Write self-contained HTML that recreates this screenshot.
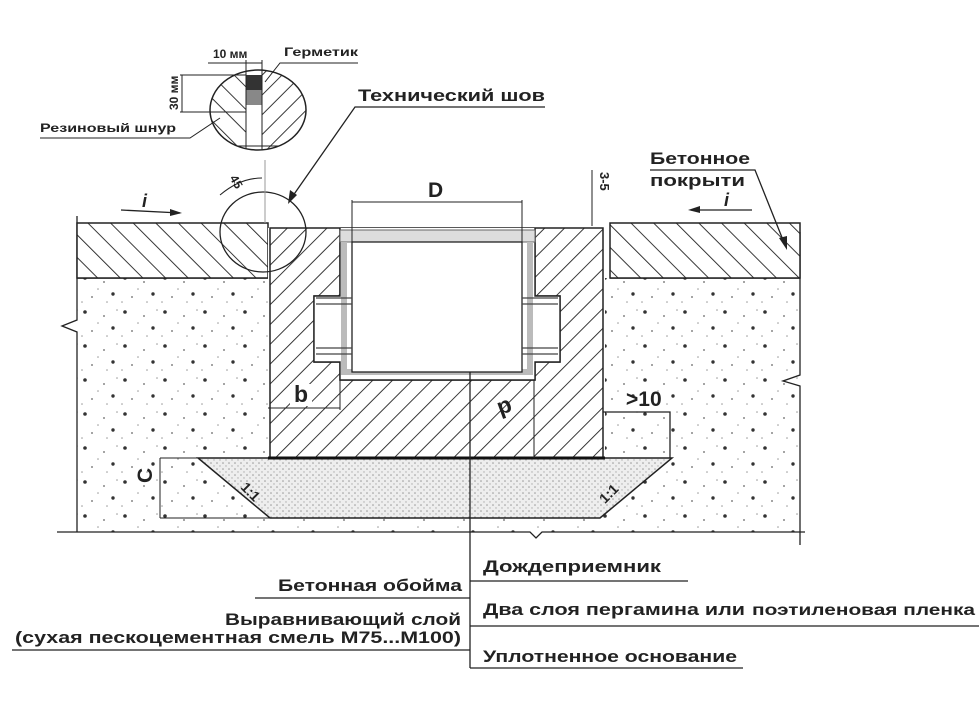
<!DOCTYPE html>
<html><head><meta charset="utf-8"><style>
html,body{margin:0;padding:0;background:#fff;}
svg{display:block;}
text{font-family:"Liberation Sans","DejaVu Sans",sans-serif;font-weight:bold;fill:#222;}
</style></head><body>
<svg width="979" height="708" viewBox="0 0 979 708" xmlns="http://www.w3.org/2000/svg">
<defs>
<pattern id="hL" width="14" height="14" patternUnits="userSpaceOnUse" patternTransform="rotate(45)">
<line x1="0" y1="0" x2="0" y2="14" stroke="#222" stroke-width="1.8"/></pattern>
<pattern id="hR" width="16" height="16" patternUnits="userSpaceOnUse" patternTransform="rotate(-45)">
<line x1="0" y1="0" x2="0" y2="16" stroke="#222" stroke-width="1.8"/></pattern>
<pattern id="sand" width="40" height="34" patternUnits="userSpaceOnUse">
<circle cx="5" cy="6" r="1.8" fill="#333"/><circle cx="24" cy="10" r="1" fill="#888"/>
<circle cx="33" cy="22" r="1.7" fill="#333"/><circle cx="12" cy="25" r="1" fill="#888"/>
<circle cx="18" cy="17" r="0.8" fill="#999"/><circle cx="37" cy="4" r="0.8" fill="#999"/>
<circle cx="2" cy="30" r="0.8" fill="#999"/><circle cx="27" cy="30" r="0.8" fill="#999"/></pattern>
<pattern id="fine" width="6" height="6" patternUnits="userSpaceOnUse">
<rect width="6" height="6" fill="#eee"/>
<circle cx="1" cy="1" r="0.8" fill="#999"/><circle cx="4" cy="4" r="0.7" fill="#aaa"/></pattern>
</defs>

<rect x="77" y="278" width="723" height="254" fill="url(#sand)"/>
<line x1="77" y1="278" x2="268" y2="278" stroke="#222" stroke-width="1.5"/>
<line x1="610" y1="278" x2="800" y2="278" stroke="#222" stroke-width="1.5"/>
<polygon points="198,458 672,458 600,518 270,518" fill="url(#fine)" stroke="#222" stroke-width="1.5"/>
<polyline points="77,216 77,320 62,326 77,332 77,532" fill="none" stroke="#222" stroke-width="1.3"/>
<polyline points="800,232 800,375 783,381 800,386 800,545" fill="none" stroke="#222" stroke-width="1.3"/>
<polyline points="57,532 530,532 536,538 542,532 805,532" fill="none" stroke="#222" stroke-width="1.3"/>

<rect x="77" y="223" width="191" height="55" fill="#fff"/>
<rect x="610" y="223" width="190" height="55" fill="#fff"/>
<rect x="77" y="223" width="191" height="55" fill="url(#hR)" stroke="#222" stroke-width="1.5"/>
<rect x="610" y="223" width="190" height="55" fill="url(#hR)" stroke="#222" stroke-width="1.5"/>

<rect x="268" y="228" width="337" height="230" fill="#fff"/>
<path d="M270 228 H603 V458 H270 Z M340 228 V296 H314 V362 H340 V380 H535 V362 H560 V296 H535 V228 Z" fill="url(#hL)" fill-rule="evenodd" stroke="#222" stroke-width="1.5"/>
<rect x="314" y="296" width="26" height="66" fill="#fff"/>
<rect x="535" y="296" width="25" height="66" fill="#fff"/>
<rect x="340" y="228" width="195" height="152" fill="#fff"/>
<path d="M340 228 V296 H314 V362 H340 V380 H535 V362 H560 V296 H535 V228" fill="none" stroke="#222" stroke-width="1.4"/>
<rect x="340" y="230" width="195" height="12" fill="#ddd" stroke="#666"/>
<path d="M344 242 V372 H530 V242" fill="none" stroke="#bbb" stroke-width="6"/>
<rect x="352" y="242" width="170" height="130" fill="#fff" stroke="#222" stroke-width="1.3"/>
<g stroke="#444" stroke-width="1.2">
<line x1="316" y1="298" x2="352" y2="298"/><line x1="316" y1="304" x2="352" y2="304"/>
<line x1="316" y1="348" x2="352" y2="348"/><line x1="316" y1="354" x2="352" y2="354"/>
<line x1="522" y1="298" x2="558" y2="298"/><line x1="522" y1="304" x2="558" y2="304"/>
<line x1="522" y1="348" x2="558" y2="348"/><line x1="522" y1="354" x2="558" y2="354"/>
</g>
<line x1="268" y1="458" x2="605" y2="458" stroke="#111" stroke-width="3"/>
<line x1="534" y1="380" x2="534" y2="458" stroke="#222" stroke-width="1"/>

<polyline points="603,412 670,412 670,458" fill="none" stroke="#222" stroke-width="1.3"/>
<text x="626" y="406" font-size="21">&gt;10</text>

<line x1="268" y1="408" x2="340" y2="408" stroke="#222"/>
<line x1="340" y1="380" x2="340" y2="410" stroke="#222"/>
<rect x="290" y="384" width="22" height="22" fill="#fff"/>
<text x="294" y="402" font-size="23">b</text>
<text x="498" y="415" font-size="23" transform="rotate(160 505 408)">d</text>
<line x1="470" y1="372" x2="470" y2="668" stroke="#222" stroke-width="1.3"/>
<line x1="160" y1="458" x2="198" y2="458" stroke="#222"/>
<line x1="160" y1="518" x2="270" y2="518" stroke="#222"/>
<line x1="160" y1="458" x2="160" y2="518" stroke="#222"/>
<text x="150" y="495" font-size="21" transform="rotate(-90 145 488)">C</text>
<text x="240" y="488" font-size="14" font-weight="normal" transform="rotate(45 240 488)">1:1</text>
<text x="600" y="498" font-size="14" font-weight="normal" transform="rotate(-45 610 495)">1:1</text>

<line x1="352" y1="202" x2="522" y2="202" stroke="#222"/>
<line x1="352" y1="200" x2="352" y2="242" stroke="#222"/>
<line x1="522" y1="200" x2="522" y2="242" stroke="#222"/>
<text x="428" y="197" font-size="21">D</text>
<line x1="592" y1="170" x2="592" y2="226" stroke="#222"/>
<text x="600" y="172" font-size="13" transform="rotate(90 600 172)">3-5</text>
<line x1="121" y1="210" x2="180" y2="213" stroke="#222" stroke-width="1.3"/>
<polygon points="182,213 170,209 170,216" fill="#222"/>
<text x="142" y="207" font-size="18" font-style="italic" font-weight="normal">i</text>
<line x1="691" y1="210" x2="752" y2="210" stroke="#222" stroke-width="1.3"/>
<polygon points="688,210 700,206 700,213" fill="#222"/>
<text x="724" y="206" font-size="18" font-style="italic" font-weight="normal">i</text>

<ellipse cx="263" cy="232" rx="43" ry="40" fill="none" stroke="#222" stroke-width="1.3"/>
<line x1="265" y1="160" x2="265" y2="223" stroke="#999"/>
<path d="M220 195 Q240 178 262 178" fill="none" stroke="#222"/>
<text x="230" y="183" font-size="12" font-weight="normal" transform="rotate(60 234 180)">45</text>

<text x="358" y="101" font-size="17" textLength="187" lengthAdjust="spacingAndGlyphs">Технический шов</text>
<polyline points="545,107 355,107 290,200" fill="none" stroke="#222" stroke-width="1.3"/>
<polygon points="288,204 290,190 297,195" fill="#222"/>

<text x="650" y="164" font-size="17" textLength="100" lengthAdjust="spacingAndGlyphs">Бетонное</text>
<text x="650" y="186" font-size="17" textLength="95" lengthAdjust="spacingAndGlyphs">покрыти</text>
<polyline points="650,170 755,170 785,245" fill="none" stroke="#222" stroke-width="1.3"/>
<polygon points="787,250 779,238 787,236" fill="#222"/>

<clipPath id="dc"><ellipse cx="258" cy="110" rx="48" ry="40"/></clipPath>
<g clip-path="url(#dc)">
<rect x="200" y="60" width="46" height="100" fill="url(#hR)"/>
<rect x="262" y="60" width="50" height="100" fill="url(#hL)"/>
<rect x="246" y="75" width="16" height="15" fill="#333"/>
<rect x="246" y="90" width="16" height="15" fill="#888"/>
<line x1="246" y1="60" x2="246" y2="160" stroke="#222"/>
<line x1="262" y1="60" x2="262" y2="160" stroke="#222"/>
<line x1="200" y1="146" x2="320" y2="146" stroke="#222"/>
</g>
<ellipse cx="258" cy="110" rx="48" ry="40" fill="none" stroke="#222" stroke-width="1.5"/>
<line x1="208" y1="63" x2="262" y2="63" stroke="#222"/>
<line x1="246" y1="60" x2="246" y2="75" stroke="#222"/>
<line x1="262" y1="60" x2="262" y2="75" stroke="#222"/>
<text x="213" y="58" font-size="12">10 мм</text>
<text x="284" y="56" font-size="12" textLength="74" lengthAdjust="spacingAndGlyphs">Герметик</text>
<polyline points="358,63 280,63 265,82" fill="none" stroke="#222"/>
<line x1="180" y1="75" x2="246" y2="75" stroke="#222"/>
<line x1="180" y1="112" x2="246" y2="112" stroke="#222"/>
<line x1="182" y1="75" x2="182" y2="112" stroke="#222"/>
<text x="178" y="110" font-size="12" transform="rotate(-90 178 110)">30 мм</text>
<text x="40" y="132" font-size="12" textLength="136" lengthAdjust="spacingAndGlyphs">Резиновый шнур</text>
<polyline points="40,138 190,138 220,118" fill="none" stroke="#222"/>

<text x="278" y="591" font-size="17" textLength="184" lengthAdjust="spacingAndGlyphs">Бетонная обойма</text>
<line x1="255" y1="598" x2="470" y2="598" stroke="#222" stroke-width="1.3"/>
<text x="225" y="625" font-size="17" textLength="236" lengthAdjust="spacingAndGlyphs">Выравнивающий слой</text>
<text x="15" y="643" font-size="17" textLength="446" lengthAdjust="spacingAndGlyphs">(сухая пескоцементная смель М75...М100)</text>
<line x1="12" y1="650" x2="470" y2="650" stroke="#222" stroke-width="1.3"/>
<text x="483" y="572" font-size="17" textLength="178" lengthAdjust="spacingAndGlyphs">Дождеприемник</text>
<line x1="470" y1="581" x2="688" y2="581" stroke="#222" stroke-width="1.3"/>
<text x="483" y="615" font-size="17" textLength="262" lengthAdjust="spacingAndGlyphs">Два слоя пергамина или</text>
<text x="752" y="615" font-size="16" fill="#666" textLength="223" lengthAdjust="spacingAndGlyphs">поэтиленовая пленка</text>
<line x1="470" y1="626" x2="979" y2="626" stroke="#222" stroke-width="1.3"/>
<text x="483" y="662" font-size="17" textLength="254" lengthAdjust="spacingAndGlyphs">Уплотненное основание</text>
<line x1="470" y1="668" x2="743" y2="668" stroke="#222" stroke-width="1.3"/>
</svg>
</body></html>
